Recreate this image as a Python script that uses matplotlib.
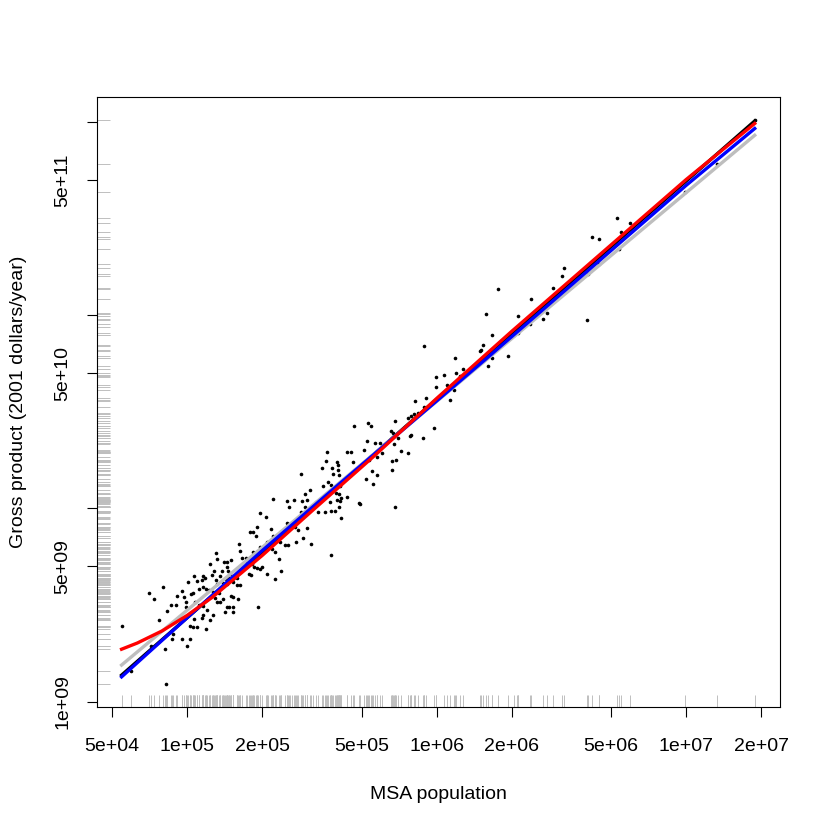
import matplotlib
matplotlib.use('Agg')
import matplotlib.pyplot as plt
import numpy as np

plt.rcParams['font.family'] = ['Liberation Sans', 'DejaVu Sans']

# MSA population and gross metropolitan product as log10 values
log10_pop = [
    4.740, 4.773, 4.848, 4.868, 4.904, 4.888, 4.853, 4.912, 4.915, 4.921,
    4.940, 4.978, 4.998, 5.011, 5.074, 4.944,
    5.345, 5.402, 5.409, 5.291, 5.315, 5.281, 5.251, 5.265, 5.275, 5.334,
    5.401, 5.412, 5.422, 5.432, 5.441, 5.445, 5.378, 5.345, 5.358, 5.372,
    5.392, 5.405, 5.436, 5.318, 5.322, 5.291, 5.338, 5.369, 5.352, 5.208,
    5.211, 5.262, 5.115, 5.118, 5.091, 5.147, 5.160, 5.174, 5.218, 5.235,
    5.240, 5.259, 5.267, 5.281, 5.291, 5.298, 5.318, 5.352, 5.378, 5.248,
    5.254, 5.200, 5.211, 5.198, 5.182, 5.158, 5.164, 5.171, 5.168, 5.155,
    5.138, 5.131, 5.144, 5.160, 5.118, 5.115, 5.107, 5.098, 5.071, 5.064,
    5.058, 5.038, 5.027, 5.004, 4.978, 4.960, 4.987, 5.014, 5.024, 5.048,
    5.062, 5.075, 5.088, 5.104, 5.128, 5.111, 5.118, 5.131, 5.144, 5.174,
    5.184, 5.204, 5.158, 5.168, 5.184, 5.182, 5.151, 5.104, 5.080, 5.062,
    5.048, 5.031, 5.064, 4.995, 4.995, 4.955, 4.937, 5.285, 5.027, 5.058,
    5.091, 5.011, 5.022, 5.040,
    5.719, 5.561, 5.641, 5.655, 5.708, 5.556, 5.601, 5.605, 5.665, 5.539,
    5.579, 5.605, 5.585, 5.609, 5.455, 5.716, 5.565, 5.575, 5.543, 5.612,
    5.492, 5.472, 5.596, 5.609, 5.639, 5.601, 5.612, 5.615, 5.692, 5.689,
    5.572, 5.428, 5.459, 5.479, 5.503, 5.516, 5.525, 5.552, 5.575, 5.592,
    5.609, 5.615, 5.472, 5.479, 5.455, 5.479, 5.463, 5.495, 5.575,
    5.669, 5.725, 5.735, 5.752, 5.759, 5.739, 5.762, 5.729, 5.743,
    6.197, 6.327, 6.444, 6.428, 6.374, 6.601, 6.324, 6.327, 6.312, 6.222,
    5.950, 6.173, 6.186, 6.178, 6.285, 6.220, 6.073, 6.204, 6.104, 6.077,
    6.030, 5.997, 6.093, 6.040, 5.998, 6.069, 5.957, 5.913, 6.053, 5.950,
    5.887, 5.898, 5.911, 5.925, 5.834, 5.988, 5.815, 5.826, 5.846, 5.831,
    5.772, 5.893, 5.899, 5.945, 5.859, 5.887, 5.779, 5.822, 5.836, 5.820,
    5.835,
    6.511, 6.501, 6.606, 6.650, 6.467, 6.380, 6.245, 6.721, 6.777, 6.738,
    6.621, 6.650, 6.731, 6.995, 7.123, 7.275,
]
log10_gmp = [
    9.393, 9.158, 9.563, 9.532, 9.593, 9.423, 9.289, 9.271, 9.089, 9.467,
    9.326, 9.326, 9.289, 9.326, 9.374, 9.348,
    10.048, 10.039, 10.005, 9.976, 9.954, 9.902, 9.879, 9.879, 9.859, 9.893,
    9.924, 9.919, 9.924, 9.902, 9.945, 9.885, 9.876, 9.859, 9.845, 9.828,
    9.811, 9.811, 9.825, 9.828, 9.794, 9.799, 9.790, 9.735, 9.773, 9.816,
    9.781, 9.776, 9.770, 9.735, 9.713, 9.722, 9.722, 9.730, 9.742, 9.742,
    9.718, 9.711, 9.696, 9.691, 9.684, 9.696, 9.661, 9.636, 9.673, 9.661,
    9.653, 9.639, 9.605, 9.601, 9.619, 9.696, 9.678, 9.661, 9.639, 9.632,
    9.673, 9.649, 9.615, 9.610, 9.610, 9.627, 9.673, 9.653, 9.639, 9.649,
    9.627, 9.622, 9.649, 9.619, 9.570, 9.546, 9.541, 9.558, 9.563, 9.584,
    9.593, 9.580, 9.575, 9.567, 9.563, 9.536, 9.515, 9.515, 9.532, 9.546,
    9.541, 9.532, 9.490, 9.490, 9.490, 9.464, 9.464, 9.450, 9.472, 9.450,
    9.498, 9.515, 9.495, 9.515, 9.490, 9.498, 9.498, 9.490, 9.429, 9.433,
    9.421, 9.392, 9.387, 9.387,
    10.348, 10.292, 10.289, 10.289, 10.302, 10.245, 10.240, 10.223, 10.237, 10.206,
    10.206, 10.199, 10.177, 10.172, 10.177, 10.151, 10.137, 10.120, 10.113, 10.116,
    10.096, 10.074, 10.079, 10.074, 10.057, 10.044, 10.039, 10.052, 10.022, 10.027,
    10.034, 10.044, 10.039, 10.044, 10.010, 10.031, 9.982, 9.982, 9.988, 9.988,
    10.005, 9.948, 10.005, 9.982, 9.979, 9.897, 9.845, 9.816, 9.759,
    10.423, 10.440, 10.426, 10.340, 10.263, 10.194, 10.172, 10.251, 10.125,
    11.003, 10.993, 11.010, 10.977, 10.955, 10.974, 10.938, 10.907, 10.895, 10.895,
    10.840, 10.814, 10.842, 10.818, 10.787, 10.776, 10.776, 10.735, 10.722, 10.697,
    10.691, 10.678, 10.684, 10.636, 10.629, 10.610, 10.570, 10.553, 10.558, 10.526,
    10.465, 10.479, 10.486, 10.495, 10.450, 10.415, 10.398, 10.388, 10.361, 10.331,
    10.340, 10.374, 10.379, 10.361, 10.295, 10.287, 10.285, 10.245, 10.251, 10.196,
    10.007,
    11.242, 11.199, 11.211, 11.263, 11.139, 11.084, 11.134, 11.502, 11.476, 11.428,
    11.405, 11.395, 11.343, 11.636, 11.780, 12.010,
]

# fitted curves (log10 scale)
fit_pop = [4.737, 7.275]
power_law = [9.137, 12.003]      # black
gray_fit = [9.189, 11.929]       # gray
blue_pop = [4.737, 5.0, 5.3, 5.6, 5.9, 6.2, 6.6, 7.0, 7.275]
blue_fit = [9.128, 9.434, 9.780, 10.115, 10.445, 10.775, 11.222, 11.670, 11.964]
red_pop = [4.737, 4.8, 4.9, 5.0, 5.1, 5.3, 5.5, 5.75, 6.0, 6.3, 6.65, 7.0, 7.275]
red_fit = [9.271, 9.303, 9.366, 9.446, 9.539, 9.755, 9.986, 10.271, 10.568,
           10.914, 11.307, 11.700, 11.990]

xticks = [5e4, 1e5, 2e5, 5e5, 1e6, 2e6, 5e6, 1e7, 2e7]
xticklabels = ['5e+04', '1e+05', '2e+05', '5e+05', '1e+06', '2e+06', '5e+06', '1e+07', '2e+07']
yticks = [1e9, 5e9, 1e10, 5e10, 1e11, 5e11, 1e12]
yticklabels = ['1e+09', '5e+09', '', '5e+10', '', '5e+11', '']

pop = np.power(10.0, log10_pop)
gmp = np.power(10.0, log10_gmp)

fig = plt.figure(figsize=(8.3, 8.3), dpi=100)
ax = fig.add_axes([0.1169, 0.1482, 0.8229, 0.7349])
ax.set_xscale('log')
ax.set_yscale('log')

# rugs
ax.vlines(pop, 0, 0.02, transform=ax.get_xaxis_transform(), color='#bebebe', lw=0.7)
ax.hlines(gmp, 0, 0.019, transform=ax.get_yaxis_transform(), color='#bebebe', lw=0.7)

ax.plot(pop, gmp, 'o', color='black', ms=2.6, mew=0, zorder=3)

ax.plot(np.power(10.0, fit_pop), np.power(10.0, power_law), color='black', lw=2.4, zorder=4)
ax.plot(np.power(10.0, fit_pop), np.power(10.0, gray_fit), color='#bebebe', lw=2.4, zorder=4)
ax.plot(np.power(10.0, blue_pop), np.power(10.0, blue_fit), color='blue', lw=2.4, zorder=5)
ax.plot(np.power(10.0, red_pop), np.power(10.0, red_fit), color='red', lw=2.4, zorder=6)

lx = np.array(log10_pop)
ly = np.array(log10_gmp)
px = 0.04 * (lx.max() - lx.min())
py = 0.04 * (ly.max() - ly.min())
ax.set_xlim(10 ** (lx.min() - px), 10 ** (lx.max() + px))
ax.set_ylim(10 ** (ly.min() - py), 10 ** (ly.max() + py))

ax.xaxis.set_minor_locator(matplotlib.ticker.NullLocator())
ax.yaxis.set_minor_locator(matplotlib.ticker.NullLocator())
ax.set_xticks(xticks)
ax.set_xticklabels(xticklabels, fontsize=14)
ax.set_yticks(yticks)
ax.set_yticklabels(yticklabels, fontsize=14, rotation=90, va='center')
ax.tick_params(direction='out', length=7.5, width=0.8, color='black')
ax.tick_params(axis='x', pad=14.5)
ax.tick_params(axis='y', pad=11)
for s in ax.spines.values():
    s.set_linewidth(0.8)

ax.set_xlabel('MSA population', fontsize=14, labelpad=23)
ax.set_ylabel('Gross product (2001 dollars/year)', fontsize=14, labelpad=20)

fig.savefig('out.png', dpi=100)
